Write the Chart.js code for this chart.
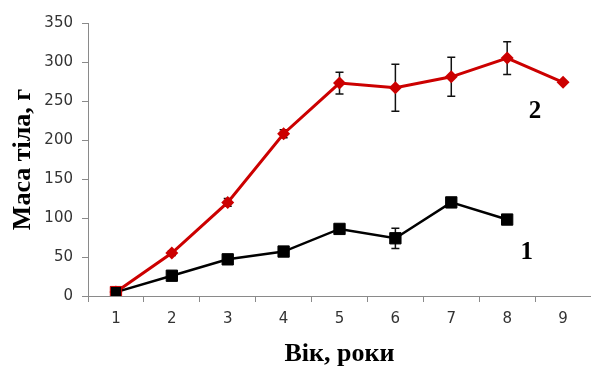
<!DOCTYPE html>
<html>
<head>
<meta charset="utf-8">
<script src="https://cdn.jsdelivr.net/npm/chart.js@4.4.1/dist/chart.umd.min.js"></script>
<style>
  html, body { margin: 0; padding: 0; background: #fff; }
  #wrap { width: 591px; height: 367px; }
</style>
</head>
<body>
<div id="wrap"><canvas id="massChart" width="591" height="367"></canvas></div>
<script>
// Age in years (x categories)
const ages = ['1', '2', '3', '4', '5', '6', '7', '8', '9'];

// Series 1 (black squares) and series 2 (red diamonds), body mass in g
const mass1 = [5, 26, 47, 57, 86, 74, 120, 98, null];
const err1 = [0, 2, 3, 4, 3, 13, 3, 3, 0];
const mass2 = [5, 55, 120, 208, 273, 267, 281, 305, 274];
const err2 = [0, 3, 5, 5, 14, 30, 25, 21, 0];

// Y axis ticks
const yTicks = [0, 50, 100, 150, 200, 250, 300, 350];

// Series number labels: [text, category position, value]
const seriesLabels = [['2', 7.5, 237], ['1', 7.35, 56]];

const serif = '"Liberation Serif", "Times New Roman", serif';
const tickFont = { family: '"DejaVu Sans", Verdana, sans-serif', size: 15 };
const axisGrey = '#8a8a8a';

// draw error bars behind the markers
const errorBars = {
    id: 'errorBars',
    beforeDatasetsDraw(chart) {
        const ctx = chart.ctx;
        const x = chart.scales.x, y = chart.scales.y;
        ctx.save();
        ctx.strokeStyle = '#111';
        ctx.lineWidth = 1.5;
        [[mass1, err1], [mass2, err2]].forEach(([vals, errs]) => {
            vals.forEach((v, i) => {
                if (v === null || !errs[i]) return;
                const px = x.getPixelForValue(i);
                const top = y.getPixelForValue(v + errs[i]);
                const bot = y.getPixelForValue(v - errs[i]);
                ctx.beginPath();
                ctx.moveTo(px, top); ctx.lineTo(px, bot);
                ctx.moveTo(px - 4, top); ctx.lineTo(px + 4, top);
                ctx.moveTo(px - 4, bot); ctx.lineTo(px + 4, bot);
                ctx.stroke();
            });
        });
        ctx.restore();
    },
    afterDatasetsDraw(chart) {
        const ctx = chart.ctx;
        const x = chart.scales.x, y = chart.scales.y;
        ctx.save();
        ctx.fillStyle = '#000';
        ctx.font = 'bold 25px ' + serif;
        ctx.textAlign = 'center';
        ctx.textBaseline = 'middle';
        seriesLabels.forEach(([t, xi, v]) => {
            ctx.fillText(t, x.getPixelForValue(xi), y.getPixelForValue(v));
        });
        ctx.restore();
    }
};

new Chart(document.getElementById('massChart').getContext('2d'), {
    type: 'line',
    data: {
        labels: ages,
        datasets: [{
            label: '1',
            data: mass1,
            borderColor: '#000',
            backgroundColor: '#000',
            borderWidth: 2.5,
            pointStyle: 'rect',
            pointRadius: 8,
            pointBorderWidth: 1,
            pointBorderColor: ['#d00000', '#000', '#000', '#000', '#000', '#000', '#000', '#000', '#000'],
            order: 1
        }, {
            label: '2',
            data: mass2,
            borderColor: '#cc0000',
            backgroundColor: '#cc0000',
            borderWidth: 3,
            pointStyle: 'rectRot',
            pointRadius: 6.5,
            pointBorderWidth: 0,
            order: 2
        }]
    },
    options: {
        responsive: false,
        animation: false,
        devicePixelRatio: 1,
        layout: { autoPadding: false, padding: { top: 23, right: 0, left: 0, bottom: 0 } },
        plugins: {
            legend: { display: false },
            tooltip: { enabled: false }
        },
        scales: {
            x: {
                offset: true,
                grid: { offset: true, drawOnChartArea: false, drawTicks: true, tickLength: 6, color: axisGrey },
                border: { color: axisGrey, width: 1 },
                ticks: { font: tickFont, color: '#333', padding: 8, maxRotation: 0 },
                title: { display: true, text: 'Вік, роки', font: { family: serif, size: 26, weight: 'bold', lineHeight: 1 }, color: '#000', padding: 0 },
                afterFit(s) { s.height = 71; }
            },
            y: {
                min: 0,
                max: 350,
                afterBuildTicks(s) { s.ticks = yTicks.map(v => ({ value: v })); },
                grid: { drawOnChartArea: false, drawTicks: true, tickLength: 6, color: axisGrey },
                border: { color: axisGrey, width: 1 },
                ticks: { font: tickFont, color: '#333', padding: 9 },
                title: { display: true, text: 'Маса тіла, г', font: { family: serif, size: 26, weight: 'bold', lineHeight: 1 }, color: '#000', padding: { top: 10 } },
                afterFit(s) { s.width = 88; }
            }
        }
    },
    plugins: [errorBars]
});
</script>
</body>
</html>
